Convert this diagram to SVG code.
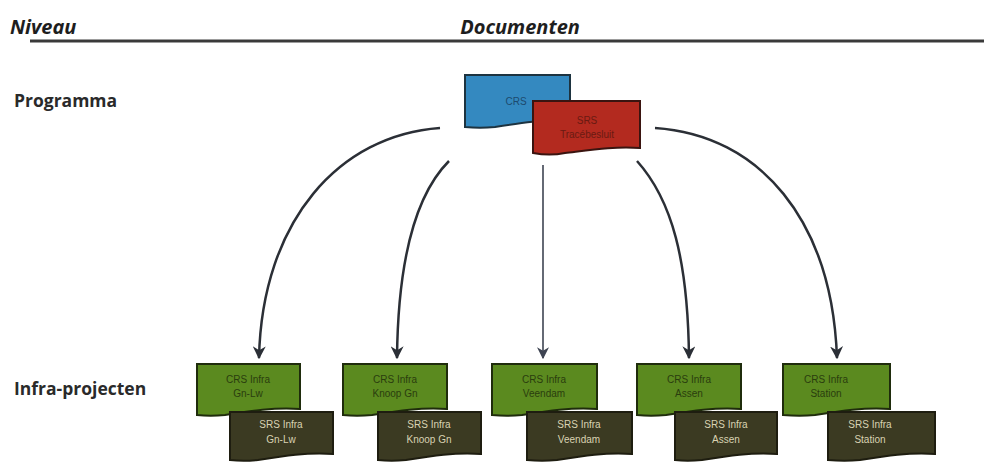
<svg xmlns="http://www.w3.org/2000/svg" width="984" height="463" viewBox="0 0 984 463">
  <defs>
    <marker id="arrow" viewBox="0 0 10 10" refX="9" refY="5" markerWidth="13" markerHeight="13" markerUnits="userSpaceOnUse" orient="auto">
      <path d="M0,0 L10,5 L0,10 L3,5 Z" fill="#2b2f36"/>
    </marker>
    <marker id="arrowThin" viewBox="0 0 10 10" refX="9" refY="5" markerWidth="12" markerHeight="12" markerUnits="userSpaceOnUse" orient="auto">
      <path d="M0,0 L10,5 L0,10 L3,5 Z" fill="#3e4452"/>
    </marker>
  </defs>
  <style>
    .head { font-family: "Open Sans", "Liberation Sans", sans-serif; font-weight: bold; font-style: italic; font-size: 20px; fill: #1e1e1e; }
    .level { font-family: "Open Sans", "Liberation Sans", sans-serif; font-weight: bold; font-size: 17.5px; fill: #2a2a2a; }
    .doc-text { font-family: "Liberation Sans", Arial, sans-serif; font-size: 10px; text-anchor: middle; }
    .crs-blue { fill: #3489c0; stroke: #1d3340; stroke-width: 2; }
    .srs-red { fill: #b32a1f; stroke: #3a1410; stroke-width: 2; }
    .crs-green { fill: #5b8a1f; stroke: #1f2c0c; stroke-width: 2; }
    .srs-dark { fill: #3b3a22; stroke: #1e1d10; stroke-width: 2; }
    .t-blue { fill: #1d4a6e; }
    .t-red { fill: #6a1a12; }
    .t-green { fill: #2a3d0e; }
    .t-dark { fill: #d9d2b2; }
    .conn { fill: none; stroke: #2b2f36; stroke-width: 2.5; marker-end: url(#arrow); }
    .conn-thin { fill: none; stroke: #3e4452; stroke-width: 1.6; marker-end: url(#arrowThin); }
  </style>

  <rect width="984" height="463" fill="#ffffff"/>

  <!-- header -->
  <text class="head" x="10" y="34">Niveau</text>
  <text class="head" x="520" y="34" text-anchor="middle">Documenten</text>
  <line x1="30" y1="41" x2="984" y2="41" stroke="#3a3a3a" stroke-width="3"/>

  <!-- level labels -->
  <text class="level" x="14" y="107">Programma</text>
  <text class="level" x="14" y="395">Infra-projecten</text>

  <!-- programme documents -->
  <g id="crs">
    <path class="crs-blue" d="M465,75 H570 V121 C545,119 520,123 495,127 C485,128 475,128 465,127 Z"/>
    <text class="doc-text t-blue" x="516" y="105" font-size="12">CRS</text>
  </g>
  <g id="srs-programma">
    <path class="srs-red" d="M533,101 H640 V148 C615,146 590,150 565,153 C555,155 544,155 533,153 Z"/>
    <text class="doc-text t-red" x="587" y="124">SRS</text>
    <text class="doc-text t-red" x="587" y="138">Tracébesluit</text>
  </g>

  <!-- connectors -->
  <g id="connectors">
    <path class="conn" d="M440,128 C340,135 262,220 259,358"/>
    <path class="conn" d="M449,161 C415,195 398,260 397,358"/>
    <path class="conn-thin" d="M543,165 L543,358"/>
    <path class="conn" d="M637,161 C672,200 688,260 689,358"/>
    <path class="conn" d="M655,128 C760,135 832,220 837,358"/>
  </g>

  <!-- infra project documents -->
  <g id="gn-lw">
    <path class="crs-green" d="M197,364 H300 V409 C275,407 250,411 225,415 C215,416 206,416 197,415 Z"/>
    <text class="doc-text t-green" x="248" y="383">CRS Infra</text>
    <text class="doc-text t-green" x="248" y="397">Gn-Lw</text>
    <path class="srs-dark" d="M230,412 H333 V454 C308,452 283,456 258,460 C248,461 239,461 230,460 Z"/>
    <text class="doc-text t-dark" x="281" y="428">SRS Infra</text>
    <text class="doc-text t-dark" x="281" y="443">Gn-Lw</text>
  </g>

  <g id="knoop-gn">
    <path class="crs-green" d="M343,364 H447 V409 C422,407 397,411 372,415 C362,416 352,416 343,415 Z"/>
    <text class="doc-text t-green" x="395" y="383">CRS Infra</text>
    <text class="doc-text t-green" x="395" y="397">Knoop Gn</text>
    <path class="srs-dark" d="M378,412 H481 V454 C456,452 431,456 406,460 C396,461 387,461 378,460 Z"/>
    <text class="doc-text t-dark" x="429" y="428">SRS Infra</text>
    <text class="doc-text t-dark" x="429" y="443">Knoop Gn</text>
  </g>

  <g id="veendam">
    <path class="crs-green" d="M492,364 H597 V409 C572,407 547,411 522,415 C512,416 502,416 492,415 Z"/>
    <text class="doc-text t-green" x="544" y="383">CRS Infra</text>
    <text class="doc-text t-green" x="544" y="397">Veendam</text>
    <path class="srs-dark" d="M527,412 H632 V454 C607,452 582,456 557,460 C547,461 537,461 527,460 Z"/>
    <text class="doc-text t-dark" x="579" y="428">SRS Infra</text>
    <text class="doc-text t-dark" x="579" y="443">Veendam</text>
  </g>

  <g id="assen">
    <path class="crs-green" d="M637,364 H741 V409 C716,407 691,411 666,415 C656,416 646,416 637,415 Z"/>
    <text class="doc-text t-green" x="689" y="383">CRS Infra</text>
    <text class="doc-text t-green" x="689" y="397">Assen</text>
    <path class="srs-dark" d="M675,412 H777 V454 C752,452 727,456 702,460 C692,461 683,461 675,460 Z"/>
    <text class="doc-text t-dark" x="726" y="428">SRS Infra</text>
    <text class="doc-text t-dark" x="726" y="443">Assen</text>
  </g>

  <g id="station">
    <path class="crs-green" d="M783,364 H890 V409 C865,407 840,411 815,415 C805,416 794,416 783,415 Z"/>
    <text class="doc-text t-green" x="826" y="383">CRS Infra</text>
    <text class="doc-text t-green" x="826" y="397">Station</text>
    <path class="srs-dark" d="M828,412 H935 V454 C910,452 885,456 860,460 C850,461 839,461 828,460 Z"/>
    <text class="doc-text t-dark" x="870" y="428">SRS Infra</text>
    <text class="doc-text t-dark" x="870" y="443">Station</text>
  </g>
</svg>
